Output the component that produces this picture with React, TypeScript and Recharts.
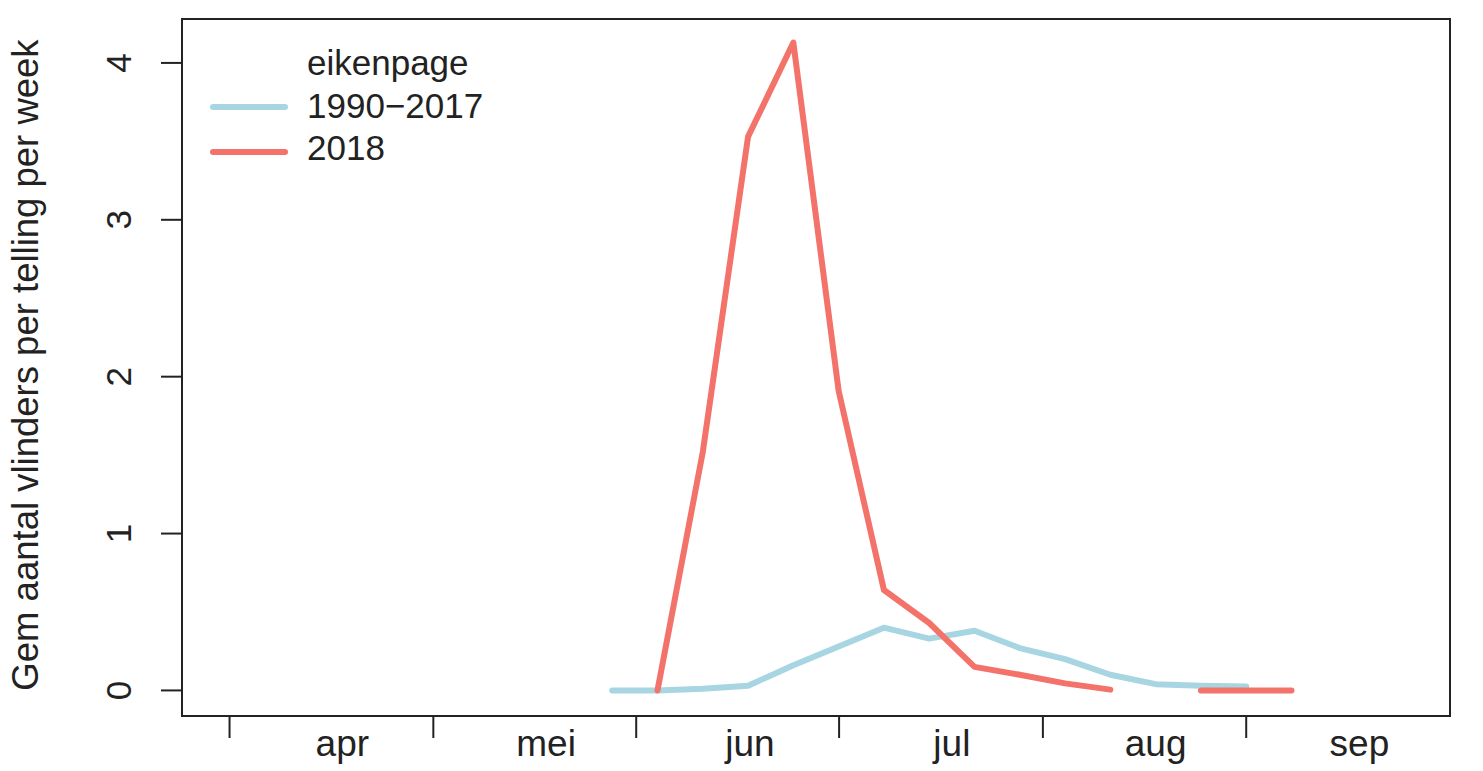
import React from 'react';
import { LineChart, Line, XAxis, YAxis, ReferenceArea, Legend } from 'recharts';

// week numbers (x) and weekly means
const weeks = [22, 23, 24, 25, 26, 27, 28, 29, 30, 31, 32, 33, 34, 35, 36, 37];
const avg1990_2017 = [0, 0, 0.01, 0.03, 0.16, 0.28, 0.4, 0.33, 0.38, 0.27, 0.2, 0.1, 0.04, 0.03, 0.025, null];
const y2018 = [null, 0, 1.52, 3.53, 4.13, 1.91, 0.64, 0.43, 0.15, 0.1, 0.045, 0.005, null, 0, 0, 0];

// month boundaries and month label positions, in week units
const monthStarts = [13.55, 18.05, 22.53, 27.01, 31.51, 36.0];
const monthMids = [16.04, 20.54, 25.04, 29.5, 34.0, 38.5];
const monthNames = ['apr', 'mei', 'jun', 'jul', 'aug', 'sep'];
const yTicks = [0, 1, 2, 3, 4];

const X_DOMAIN: [number, number] = [12.5, 40.5];
const Y_DOMAIN: [number, number] = [-0.163, 4.28];

const BLUE = '#A8D5E2';
const RED = '#F3736A';
const INK = '#222';
const FONT = '"Liberation Sans", Arial, Helvetica, sans-serif';

const data = weeks.map((w, i) => ({
  week: w,
  hist: avg1990_2017[i],
  cur: y2018[i],
}));

const YTick = (props: any) => {
  const { x, y, payload } = props;
  return (
    <text
      x={x - 30}
      y={y}
      transform={`rotate(-90, ${x - 30}, ${y})`}
      textAnchor="middle"
      fontSize={35}
      fontFamily={FONT}
      fill={INK}
    >
      {payload.value}
    </text>
  );
};

const MonthLabel = (props: any) => {
  const { x, y, index } = props;
  return (
    <text x={x} y={y} dy={18} textAnchor="middle" fontSize={37} fontFamily={FONT} fill={INK}>
      {monthNames[index]}
    </text>
  );
};

const LegendBox = () => (
  <svg width={320} height={140} style={{ display: 'block' }}>
    <text x={107} y={35} fontSize={35} fontFamily={FONT} fill={INK}>eikenpage</text>
    <line x1={13} x2={85} y1={67} y2={67} stroke={BLUE} strokeWidth={6} strokeLinecap="round" />
    <text x={107} y={78} fontSize={35} fontFamily={FONT} fill={INK}>1990−2017</text>
    <line x1={13} x2={85} y1={112} y2={112} stroke={RED} strokeWidth={6} strokeLinecap="round" />
    <text x={107} y={120} fontSize={35} fontFamily={FONT} fill={INK}>2018</text>
  </svg>
);

export default function App() {
  return (
    <div style={{ position: 'absolute', left: 0, top: 0, background: '#fff' }}>
      <LineChart width={1483} height={771} data={data} margin={{ top: 19, right: 33, left: 0, bottom: 0 }}>
        <XAxis
          xAxisId="a"
          dataKey="week"
          type="number"
          domain={X_DOMAIN}
          allowDataOverflow
          ticks={monthStarts}
          tickFormatter={() => ''}
          height={22}
          tickSize={22}
          axisLine={false}
          tickLine={{ stroke: INK, strokeWidth: 2 }}
        />
        <XAxis
          xAxisId="b"
          dataKey="week"
          type="number"
          domain={X_DOMAIN}
          allowDataOverflow
          ticks={monthMids}
          interval={0}
          height={33}
          tickSize={0}
          tickMargin={0}
          axisLine={false}
          tickLine={false}
          tick={<MonthLabel />}
        />
        <YAxis
          type="number"
          domain={Y_DOMAIN}
          allowDataOverflow
          ticks={yTicks}
          interval={0}
          width={182}
          tickSize={21}
          tickMargin={0}
          axisLine={false}
          tickLine={{ stroke: INK, strokeWidth: 2 }}
          tick={<YTick />}
          label={{
            content: () => (
              <text
                x={38}
                y={365}
                transform="rotate(-90, 38, 365)"
                textAnchor="middle"
                fontSize={36.5}
                fontFamily={FONT}
                fill={INK}
              >
                Gem aantal vlinders per telling per week
              </text>
            ),
          }}
        />
        <ReferenceArea
          xAxisId="a"
          x1={X_DOMAIN[0]}
          x2={X_DOMAIN[1]}
          y1={Y_DOMAIN[0]}
          y2={Y_DOMAIN[1]}
          fill="none"
          stroke={INK}
          strokeWidth={2}
          ifOverflow="visible"
        />
        <Line
          xAxisId="a"
          type="linear"
          dataKey="hist"
          stroke={BLUE}
          strokeWidth={6}
          strokeLinecap="round"
          strokeLinejoin="round"
          dot={false}
          activeDot={false}
          isAnimationActive={false}
        />
        <Line
          xAxisId="a"
          type="linear"
          dataKey="cur"
          stroke={RED}
          strokeWidth={6}
          strokeLinecap="round"
          strokeLinejoin="round"
          dot={false}
          activeDot={false}
          isAnimationActive={false}
        />
        <Legend
          layout="vertical"
          align="center"
          verticalAlign="middle"
          content={<LegendBox />}
          wrapperStyle={{ left: 200, top: 40, width: 320 }}
        />
      </LineChart>
    </div>
  );
}
